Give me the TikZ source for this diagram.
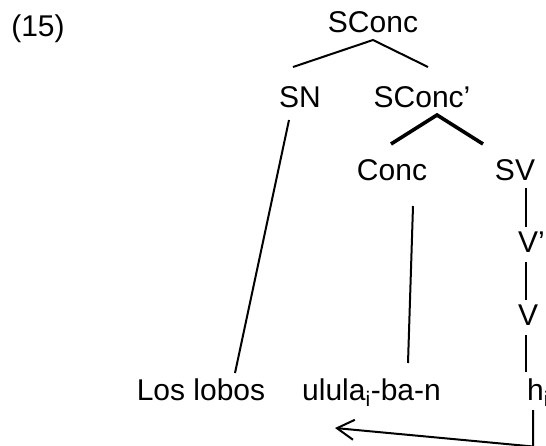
\documentclass[tikz,border=0pt]{standalone}
\usepackage{fontspec}
\setmainfont{Liberation Sans}
\usetikzlibrary{arrows.meta}

\begin{document}
\begin{tikzpicture}[x=1pt,y=-1pt,
		every node/.style={inner sep=0pt,anchor=base,font=\fontsize{30}{36}\selectfont},
		branch/.style={line width=2pt},
		head/.style={line width=3.6pt},
		movement/.style={line width=2pt,-{Straight Barb[length=17pt,width=20pt]}}]

		\useasboundingbox (0,0) rectangle (546,445);

		% labels
		\node (ex) at (38,36) {(15)};
		\node (sconc) at (373,32) {SConc};
		\node (sn) at (300,107) {SN};
		\node (sconcbar) at (422,107) {SConc’};
		\node (conc) at (392,180) {Conc};
		\node (sv) at (515,180) {SV};
		\node[anchor=base west] (vbar) at (518,252) {V’};
		\node[anchor=base west] (v) at (518,325) {V};
		\node (loslobos) at (201,400) {Los lobos};
		\node (ululaban) at (371.5,400) {ulula\textsubscript{i}-ba-n};
		\node[anchor=base west] (hi) at (527,400) {h\textsubscript{i}};
		\coordinate (trace) at (533,446.5);

		% branches
		\draw[branch] ([shift={(-7pt,40pt)}]sn.base) -- ([yshift=-8pt]sconc.base)
			-- ([shift={(6pt,40pt)}]sconcbar.base);
		\draw[head] ([shift={(-1pt,36pt)}]conc.base) -- ([shift={(15pt,-8pt)}]sconcbar.base)
			-- ([shift={(-32pt,36pt)}]sv.base);
		\draw[branch] ([shift={(-11pt,-13pt)}]sn.base) -- ([shift={(34pt,27pt)}]loslobos.base);
		\draw[branch] ([shift={(21pt,-26pt)}]conc.base) -- ([shift={(36.5pt,37pt)}]ululaban.base);
		\draw[branch] ([shift={(11pt,-8pt)}]sv.base) -- ([shift={(8pt,25pt)}]vbar.base west);
		\draw[branch] ([shift={(8pt,-10pt)}]vbar.base west) -- ([shift={(8pt,25pt)}]v.base west);
		\draw[branch] ([shift={(8pt,-10pt)}]v.base west) -- ([shift={(-1pt,28pt)}]hi.base west);

		% movement
		\draw[movement] ([shift={(6pt,-10pt)}]hi.base west) -- (trace)
			-- ([shift={(-36.5pt,-28pt)}]ululaban.base);

\end{tikzpicture}
\end{document}
